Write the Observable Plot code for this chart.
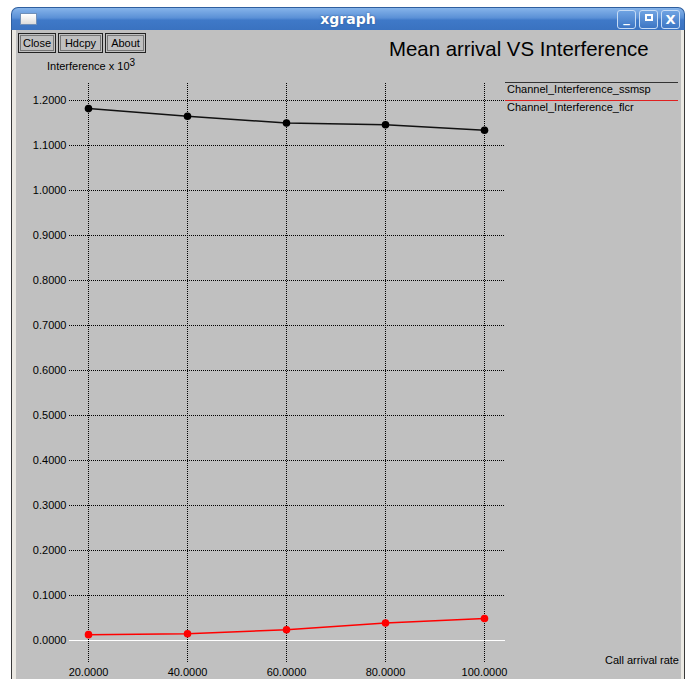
<!DOCTYPE html>
<html>
<head>
<meta charset="utf-8">
<script src="https://cdn.jsdelivr.net/npm/d3@7"></script>
<script src="https://cdn.jsdelivr.net/npm/@observablehq/plot@0.6"></script>
<style>
  html, body { margin: 0; padding: 0; background: #fff; }
  body { width: 692px; height: 679px; position: relative; overflow: hidden; font-family: "Liberation Sans", Arial, sans-serif; }
  #win { position: absolute; left: 11px; top: 7px; width: 674px; height: 690px; }
  #titlebar { position: absolute; left: 0; top: 0; width: 672px; height: 22px; border: 1px solid #2f5f9f; border-bottom: none;
    border-radius: 7px 7px 0 0; background: linear-gradient(#86b4ea, #5a90d6 45%, #3f79c8 55%, #3a72c0); }
  #ticon { position: absolute; left: 8px; top: 5px; width: 15px; height: 10px; border: 1px solid #6f8fb8; background: linear-gradient(#ffffff, #dcdcdc); }
  #ttext { position: absolute; left: 0; right: 0; top: 3px; text-align: center; color: #fff; font: bold 14px "DejaVu Sans", sans-serif; text-shadow: 0 0 2px #2a5590; }
  .wb { position: absolute; top: 2px; width: 17px; height: 17px; border: 1px solid #c7dcf5; border-radius: 3px;
    background: linear-gradient(#6ea2e2, #3d76c4); color: #fff; font: bold 13px "DejaVu Sans", sans-serif; text-align: center; line-height: 17px; }
  #content { position: absolute; left: 0; top: 23px; width: 672px; height: 670px; background: #c0c0c0;
    border-left: 1px solid #3a3a3a; border-right: 1px solid #3a3a3a; }
  #lstrip { position: absolute; left: 0; top: 0; width: 4px; height: 100%; background: #ebe9e3; }
  #rstrip { position: absolute; right: 0; top: 0; width: 3px; height: 100%; background: #ebe9e3; }
  .btn { position: absolute; top: 26px; height: 18px; border: 1px solid #222; outline: 1px solid #777; outline-offset: -3px;
    font-size: 11px; line-height: 18px; text-align: center; color: #000; }
  .txt { position: absolute; color: #000; white-space: nowrap; }
  #plot { position: absolute; left: 0; top: 0; }
  .leg { position: absolute; left: 505px; width: 173px; height: 0; }
</style>
</head>
<body>
<div id="win">
  <div id="titlebar">
    <div id="ticon"></div>
    <div id="ttext">xgraph</div>
    <div class="wb" style="left:605px;"><span style="position:relative;top:-2px">_</span></div>
    <div class="wb" style="left:627px;"><span style="display:inline-block;width:8px;height:7px;border:2px solid #fff;margin-top:3px;box-sizing:border-box;vertical-align:top"></span></div>
    <div class="wb" style="left:649px;">X</div>
  </div>
  <div id="content">
    <div id="lstrip"></div>
    <div id="rstrip"></div>
  </div>
</div>
<div class="btn" style="left:18px;width:36px;top:33px;">Close</div>
<div class="btn" style="left:58px;width:43px;top:33px;">Hdcpy</div>
<div class="btn" style="left:105px;width:39px;top:33px;">About</div>
<div class="txt" style="left:389px;top:38px;font-size:20.4px;">Mean arrival VS Interference</div>
<div class="txt" style="left:47px;top:60px;font-size:11px;">Interference x 10<span style="font-size:10px;position:relative;top:-4px;">3</span></div>
<div class="leg" style="top:82px;border-top:1.5px solid #333;"></div>
<div class="txt" style="left:507px;top:83px;font-size:11px;">Channel_Interference_ssmsp</div>
<div class="leg" style="top:100px;border-top:1.5px solid #e02020;"></div>
<div class="txt" style="left:507px;top:101px;font-size:11px;">Channel_Interference_flcr</div>
<div class="txt" style="left:605px;top:654px;font-size:11px;">Call arrival rate</div>
<div id="plot"></div>
<script>
const rates = [20, 40, 60, 80, 100];
const ssmsp = [1.182, 1.165, 1.150, 1.146, 1.134];
const flcr = [0.013, 0.015, 0.024, 0.039, 0.049];
const xTicks = [20, 40, 60, 80, 100];
const yTicks = [0, 0.1, 0.2, 0.3, 0.4, 0.5, 0.6, 0.7, 0.8, 0.9, 1.0, 1.1, 1.2];

const ssData = rates.map((r, i) => ({rate: r, value: ssmsp[i]}));
const flData = rates.map((r, i) => ({rate: r, value: flcr[i]}));
const dotted = {stroke: "#000", strokeOpacity: 1, strokeWidth: 1, strokeDasharray: "1,1"};

const chart = Plot.plot({
  width: 692,
  height: 679,
  marginLeft: 69,
  marginRight: 187,
  marginTop: 83,
  marginBottom: 17,
  x: {domain: [20, 100], range: [88, 484]},
  y: {domain: [0, 1.2], range: [640, 100]},
  style: {background: "transparent", fontFamily: "'Liberation Sans', Arial, sans-serif", fontSize: "11px", color: "#000", overflow: "visible"},
  marks: [
    Plot.gridY(yTicks.filter(d => d !== 0), dotted),
    Plot.gridX(xTicks, dotted),
    Plot.ruleY([0], {stroke: "#fff", strokeWidth: 1.2}),
    Plot.axisY(yTicks, {tickSize: 0, tickPadding: 3, tickFormat: d => d.toFixed(4), label: null}),
    Plot.axisX(xTicks, {tickSize: 0, tickPadding: 6, tickFormat: d => d.toFixed(4), label: null}),
    Plot.line(ssData, {x: "rate", y: "value", stroke: "#111", strokeWidth: 1.5}),
    Plot.dot(ssData, {x: "rate", y: "value", r: 3.8, fill: "#000", stroke: "none"}),
    Plot.line(flData, {x: "rate", y: "value", stroke: "#f00", strokeWidth: 1.5}),
    Plot.dot(flData, {x: "rate", y: "value", r: 3.8, fill: "#f00", stroke: "none"})
  ]
});
document.getElementById("plot").appendChild(chart);
</script>
</body>
</html>
